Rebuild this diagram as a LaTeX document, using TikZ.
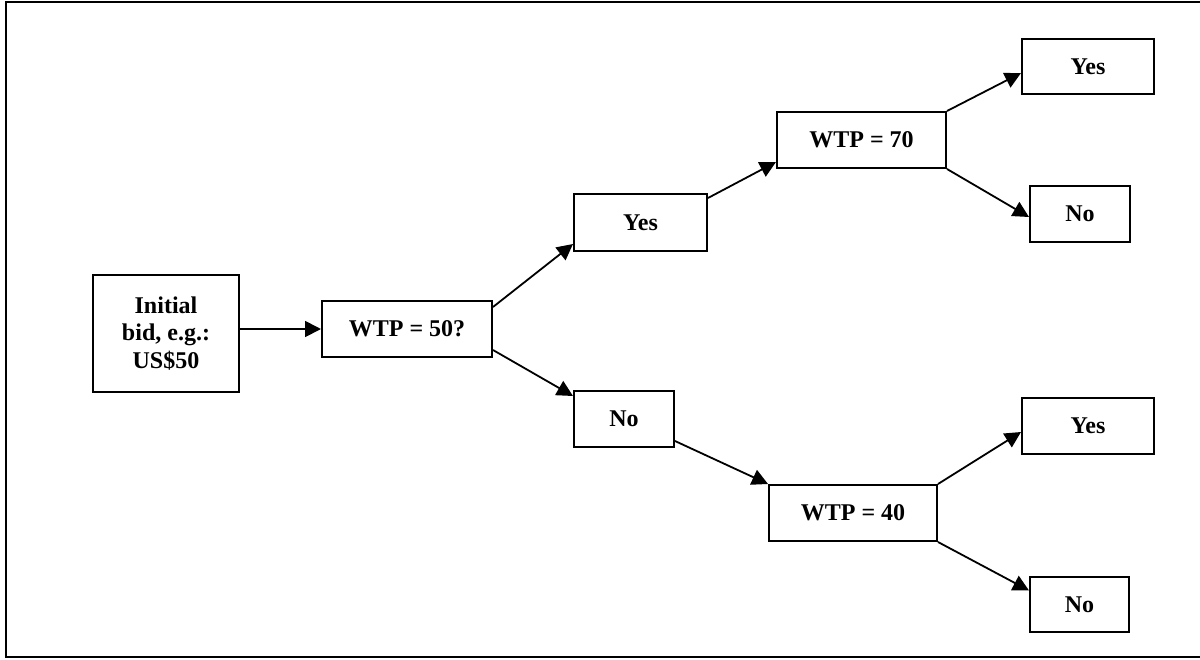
\documentclass[tikz,border=0pt]{standalone}
\usepackage{fontspec}
\setmainfont{Liberation Serif}
\usetikzlibrary{arrows.meta,calc}

\begin{document}
\begin{tikzpicture}[x=0.5pt, y=-0.5pt,
        box/.style={draw, line width=1pt, inner sep=0pt, align=center,
          font=\fontsize{12}{13.8}\selectfont\bfseries},
        link/.style={line width=0.9pt, -{Triangle[length=8pt,width=8pt]}}]
        \clip (0,0) rectangle (1200,659);
        \useasboundingbox (0,0) rectangle (1200,659);
        \draw [line width=1.15pt] (1210,2) -- (6,2) -- (6,657) -- (1210,657);

        \node [box, minimum width=73pt, minimum height=58.5pt] (init)
          at (166,333.5) {Initial\\bid, e.g.:\\US\$50};
        \node [box, minimum width=85pt, minimum height=28pt] (w50)
          at (407,329) {WTP = 50?};
        \node [box, minimum width=66.5pt, minimum height=28.5pt] (yes1)
          at (640.5,222.5) {Yes};
        \node [box, minimum width=50pt, minimum height=28pt] (no1)
          at (624,419) {No};
        \node [box, minimum width=84.5pt, minimum height=28pt] (w70)
          at (861.5,140) {WTP = 70};
        \node [box, minimum width=84pt, minimum height=28pt] (w40)
          at (853,513) {WTP = 40};
        \node [box, minimum width=66pt, minimum height=27.5pt] (yes2)
          at (1088,66.5) {Yes};
        \node [box, minimum width=50pt, minimum height=28pt] (no2)
          at (1080,214) {No};
        \node [box, minimum width=66pt, minimum height=28pt] (yes3)
          at (1088,426) {Yes};
        \node [box, minimum width=49.5pt, minimum height=27.5pt] (no3)
          at (1079.5,604.5) {No};

        \draw [link] (init.east |- w50.west) -- (w50.west);
        \draw [link] ($(w50.north east)+(0,7)$) -- ($(yes1.south west)+(0,-8)$);
        \draw [link] ($(w50.south east)+(0,-8)$) -- ($(no1.north west)+(0,6)$);
        \draw [link] ($(yes1.north east)+(0,5)$) -- ($(w70.south west)+(0,-7)$);
        \draw [link] ($(no1.south east)+(0,-7)$) -- (w40.north west);
        \draw [link] (w70.north east) -- ($(yes2.west)+(0,6.5)$);
        \draw [link] (w70.south east) -- ($(no2.west)+(0,3)$);
        \draw [link] (w40.north east) -- ($(yes3.west)+(0,6)$);
        \draw [link] (w40.south east) -- ($(no3.west)+(0,-14)$);
\end{tikzpicture}
\end{document}
